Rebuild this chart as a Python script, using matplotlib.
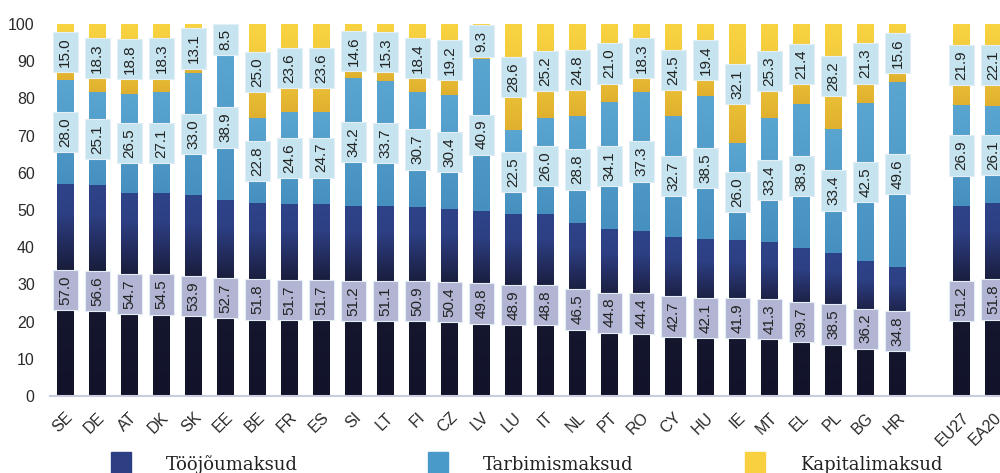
import numpy as np
import matplotlib
matplotlib.use("Agg")
import matplotlib.pyplot as plt
from matplotlib.colors import LinearSegmentedColormap
from matplotlib.patches import Rectangle

plt.rcParams['font.family'] = ['Liberation Sans', 'DejaVu Sans']

countries = ["SE", "DE", "AT", "DK", "SK", "EE", "BE", "FR", "ES", "SI", "LT", "FI",
             "CZ", "LV", "LU", "IT", "NL", "PT", "RO", "CY", "HU", "IE", "MT", "EL",
             "PL", "BG", "HR", "EU27", "EA20"]
labour = [57.0, 56.6, 54.7, 54.5, 53.9, 52.7, 51.8, 51.7, 51.7, 51.2, 51.1, 50.9,
          50.4, 49.8, 48.9, 48.8, 46.5, 44.8, 44.4, 42.7, 42.1, 41.9, 41.3, 39.7,
          38.5, 36.2, 34.8, 51.2, 51.8]
consumption = [28.0, 25.1, 26.5, 27.1, 33.0, 38.9, 22.8, 24.6, 24.7, 34.2, 33.7, 30.7,
               30.4, 40.9, 22.5, 26.0, 28.8, 34.1, 37.3, 32.7, 38.5, 26.0, 33.4, 38.9,
               33.4, 42.5, 49.6, 26.9, 26.1]
capital = [15.0, 18.3, 18.8, 18.3, 13.1, 8.5, 25.0, 23.6, 23.6, 14.6, 15.3, 18.4,
           19.2, 9.3, 28.6, 25.2, 24.8, 21.0, 18.3, 24.5, 19.4, 32.1, 25.3, 21.4,
           28.2, 21.3, 15.6, 21.9, 22.1]
names = ["Tööjõumaksud", "Tarbimismaksud", "Kapitalimaksud"]

# countries, then a gap, then the EU aggregates
x = np.array(list(range(27)) + [28, 29], dtype=float)
labour = np.array(labour)
consumption = np.array(consumption)
capital = np.array(capital)

cmaps = [
    LinearSegmentedColormap.from_list("lab", [(0, "#12132a"), (0.55, "#15182f"),
                                              (0.72, "#232c5e"), (0.86, "#2d4084"),
                                              (1, "#2f4389")], N=1024),
    LinearSegmentedColormap.from_list("con", ["#4690c0", "#5aa6d1"], N=1024),
    LinearSegmentedColormap.from_list("cap", ["#e0b02e", "#f0c83a", "#f9d442"], N=1024),
]
legend_colors = ["#2e3e82", "#4a9ac9", "#f8d040"]
box_colors = ["#b1b4d2", "#c5e4ef", "#c5e4ef"]

fig = plt.figure(figsize=(10, 4.73), dpi=100)
ax = fig.add_axes([0.05, 1 - 396 / 473, 0.95, (396 - 24) / 473])

w = 0.52
bottoms = [np.zeros_like(labour), labour, labour + consumption]
grad = np.linspace(0, 1, 512).reshape(-1, 1)
for vals, bot, cm, bc in zip([labour, consumption, capital], bottoms, cmaps, box_colors):
    bars = ax.bar(x, vals, w, bottom=bot, color="none", linewidth=0, zorder=2)
    for r in bars:
        x0, y0 = r.get_x(), r.get_y()
        ax.imshow(grad, extent=[x0, x0 + r.get_width(), y0, y0 + r.get_height()],
                  origin="lower", cmap=cm, aspect="auto", zorder=2,
                  interpolation="bilinear")
    for xi, v, b in zip(x, vals, bot):
        ax.text(xi, b + v / 2, "%.1f" % v, rotation=90, ha="center", va="center",
                fontsize=11, color="#222222", zorder=4,
                bbox=dict(boxstyle="square,pad=0.35", fc=bc, ec="#e4eef6", lw=0.8))

ax.set_xlim(-0.48, 29.2)
ax.set_ylim(0, 100)
ax.set_yticks(range(0, 101, 10))
ax.set_xticks(x)
ax.set_xticklabels(countries, rotation=45, ha="right", rotation_mode="anchor")
ax.tick_params(length=0, labelsize=11.5, colors="#2a2a2a")
ax.tick_params(axis="y", pad=11)
ax.tick_params(axis="x", pad=10)
for s in ["top", "right", "left"]:
    ax.spines[s].set_visible(False)
ax.spines["bottom"].set_color("#c9cbe0")
ax.spines["bottom"].set_linewidth(1.5)

# legend along the bottom edge
sq_x = [111, 428, 745]
tx_x = [166, 483, 800]
for sx, tx, c, n in zip(sq_x, tx_x, legend_colors, names):
    fig.patches.append(Rectangle((sx / 1000, 0.0), 20 / 1000, 21 / 473,
                                 transform=fig.transFigure, color=c))
    fig.text(tx / 1000, 1 - 470 / 473, n, family="DejaVu Serif", fontsize=13,
             color="#222222", va="baseline", ha="left")

fig.savefig("out.png", dpi=100)
